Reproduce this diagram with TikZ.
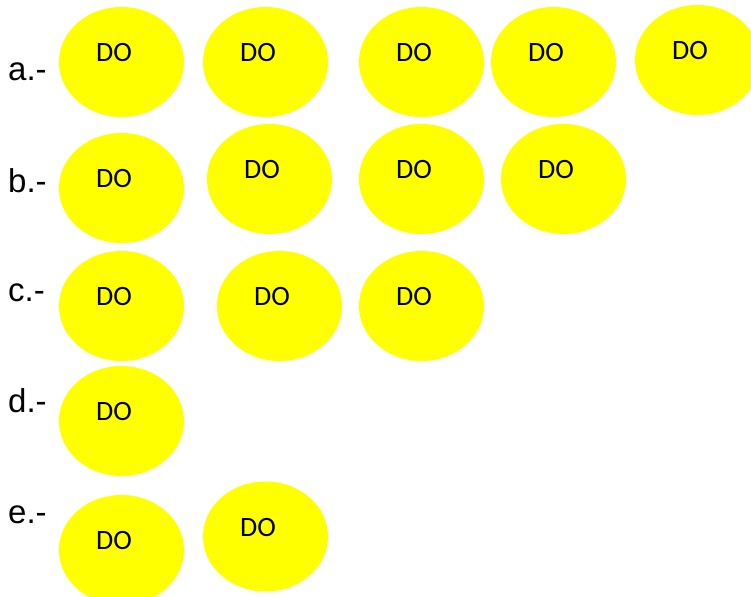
\documentclass[tikz,border=0pt]{standalone}
\usepackage{fontspec}
\setmainfont{Liberation Sans}
\newfontfamily\bubblefont{Carlito}
\usetikzlibrary{shapes.geometric}
\definecolor{bubblefill}{RGB}{255,255,0}

\begin{document}
\begin{tikzpicture}[
  x=1pt, y=-1pt,
  bubble/.style={ellipse, fill=bubblefill, inner sep=0pt,
                 minimum width=125pt, minimum height=110pt,
                 label={[font=\bubblefont\fontsize{28}{28}\selectfont,
                         xshift=-7.5pt, yshift=9pt]center:DO}},
  rowlabel/.style={anchor=base west, inner sep=0pt,
                   font=\fontsize{33}{33}\selectfont}]
  \useasboundingbox (0,0) rectangle (751,596);
  % row labels
  \node[rowlabel] (la) at (8,81) {a.-};
  \node[rowlabel] (lb) at (8,192) {b.-};
  \node[rowlabel] (lc) at (8,301) {c.-};
  \node[rowlabel] (ld) at (8,412) {d.-};
  \node[rowlabel] (le) at (8,523) {e.-};
  % a
  \node[bubble] (a1) at (121.5,62) {};
  \node[bubble] (a2) at (265.5,62) {};
  \node[bubble] (a3) at (421.5,62) {};
  \node[bubble] (a4) at (553.5,62) {};
  \node[bubble] (a5) at (697.5,60) {};
  % b
  \node[bubble] (b1) at (121.5,188) {};
  \node[bubble] (b2) at (269.5,179) {};
  \node[bubble] (b3) at (421.5,179) {};
  \node[bubble] (b4) at (563.5,179) {};
  % c
  \node[bubble] (c1) at (121.5,306) {};
  \node[bubble] (c2) at (279.5,306) {};
  \node[bubble] (c3) at (421.5,306) {};
  % d
  \node[bubble] (d1) at (121.5,421) {};
  % e
  \node[bubble] (e1) at (121.5,550) {};
  \node[bubble] (e2) at (265.5,536.5) {};
\end{tikzpicture}
\end{document}
